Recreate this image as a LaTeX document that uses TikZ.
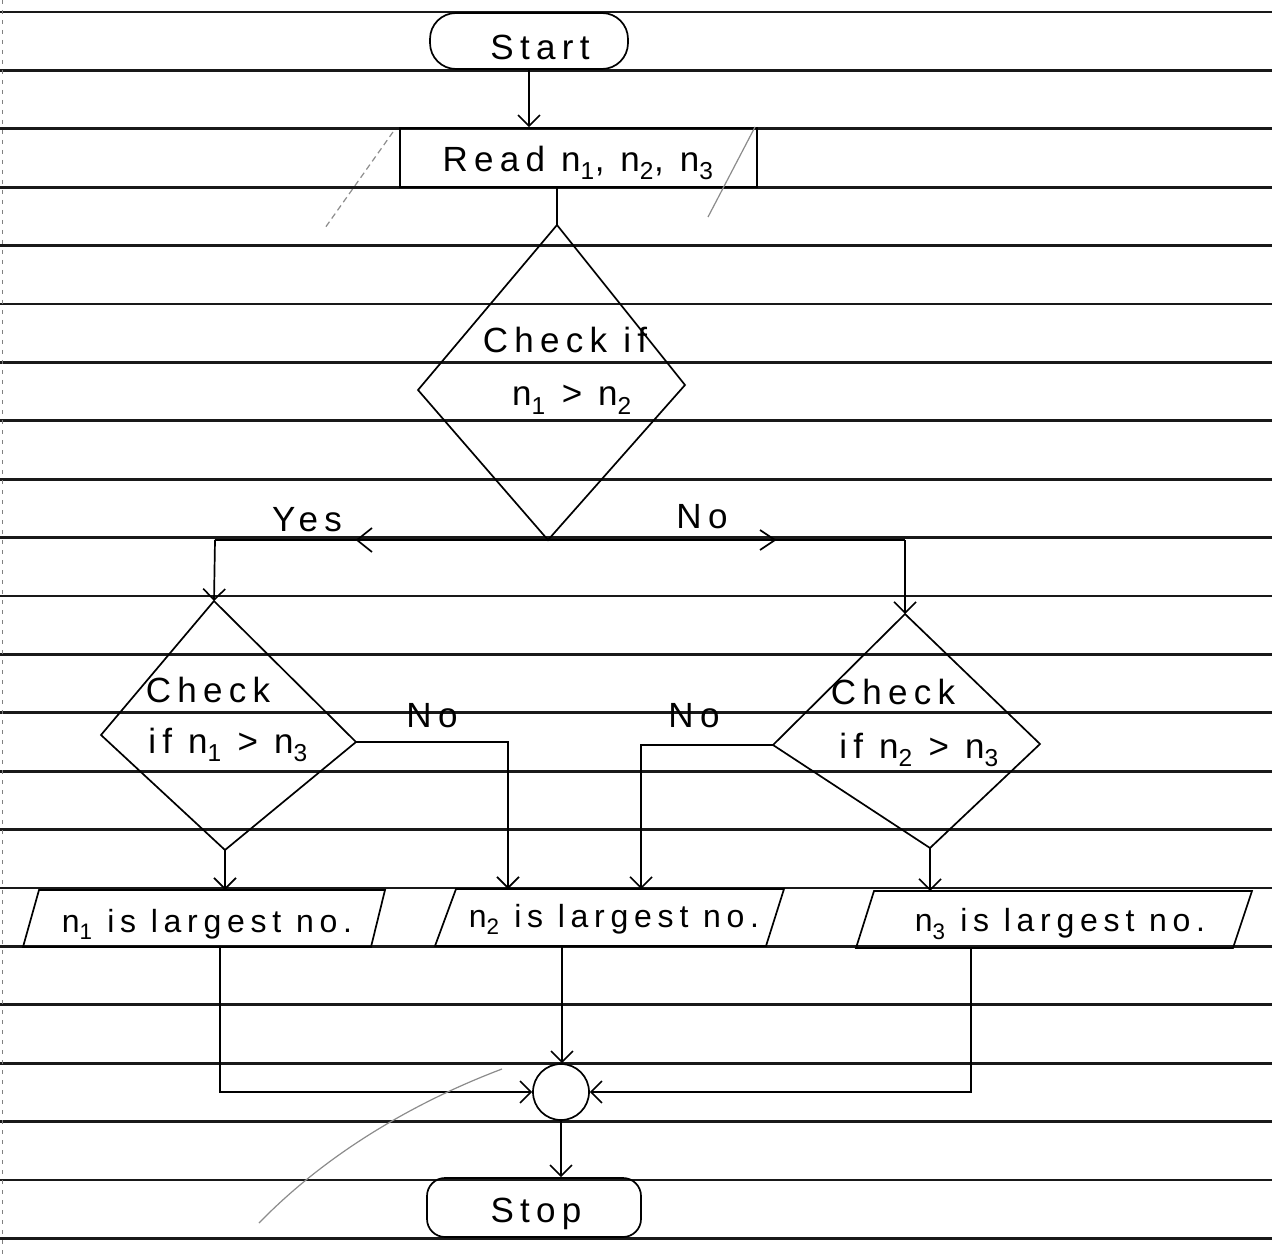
\documentclass[tikz,border=0pt]{standalone}
\usepackage{fontspec}
\setmainfont{Liberation Sans}[LetterSpace=18]
\usetikzlibrary{arrows.meta,calc}
\begin{document}
\begin{tikzpicture}[x=1pt,y=-1pt,
  rule/.style={line width=2.8pt,black!90},
  flow/.style={line width=1.7pt,black},
  arr/.style={flow,-{Straight Barb[length=11pt,width=22pt,line width=1.6pt]}},
  lbl/.style={inner sep=0pt,font=\fontsize{35}{40}\selectfont},
  reslbl/.style={inner sep=0pt,font=\fontsize{32}{38}\selectfont},
  pencil/.style={line width=1.2pt,black!45},
  term/.style={flow,draw,inner sep=0pt},
]
\useasboundingbox (0,0) rectangle (1272,1257);
\fill[white] (0,0) rectangle (1272,1257);

% ruled paper and its margin
\foreach \k in {0,...,21} \draw[rule] (0,{12+58.4*\k}) -- (1272,{12+58.4*\k});
\draw[black!50,line width=1pt,dash pattern=on 4pt off 6pt] (2,0) -- (2,1257);

% terminals and input box
\node[term,rounded corners=26pt,minimum width=198pt,minimum height=56pt] (start) at (529,41) {};
\node[lbl] (starttxt) at (540,47) {Start};
\node[term,minimum width=357pt,minimum height=59pt] (read) at (578.5,157.5) {};
\node[lbl] (readtxt) at (578,163) {Read n\textsubscript{1}, n\textsubscript{2}, n\textsubscript{3}};

% decision n1 > n2
\coordinate (d1t) at (557,225);
\coordinate (d1l) at (418,390);
\coordinate (d1r) at (685,385);
\coordinate (d1b) at (548,540);
\draw[flow] (d1t) -- (d1r) -- (d1b) -- (d1l) -- cycle;
\node[lbl] (d1a) at (565,340) {Check if};
\node[lbl] (d1c) at (572,400) {n\textsubscript{1} > n\textsubscript{2}};

% decision n1 > n3
\coordinate (d2t) at (214,601);
\coordinate (d2l) at (101,735);
\coordinate (d2r) at (356,742);
\coordinate (d2b) at (225,850);
\draw[flow] (d2t) -- (d2r) -- (d2b) -- (d2l) -- cycle;
\node[lbl] (d2a) at (208,690) {Check};
\node[lbl] (d2c) at (228,745) {if n\textsubscript{1} > n\textsubscript{3}};

% decision n2 > n3
\coordinate (d3t) at (905,614);
\coordinate (d3l) at (773,745);
\coordinate (d3r) at (1040,744);
\coordinate (d3b) at (930,848);
\draw[flow] (d3t) -- (d3r) -- (d3b) -- (d3l) -- cycle;
\node[lbl] (d3a) at (893,692) {Check};
\node[lbl] (d3c) at (919,750) {if n\textsubscript{2} > n\textsubscript{3}};

% result boxes
\coordinate (p1a) at (39,890);  \coordinate (p1b) at (385,890);
\coordinate (p1c) at (371,947); \coordinate (p1d) at (23,947);
\draw[flow] (p1a) -- (p1b) -- (p1c) -- (p1d) -- cycle;
\node[reslbl] (p1) at (207,924) {n\textsubscript{1} is largest no.};
\coordinate (p2a) at (456,889); \coordinate (p2b) at (784,889);
\coordinate (p2c) at (766,946); \coordinate (p2d) at (435,946);
\draw[flow] (p2a) -- (p2b) -- (p2c) -- (p2d) -- cycle;
\node[reslbl] (p2) at (614,919) {n\textsubscript{2} is largest no.};
\coordinate (p3a) at (874,891); \coordinate (p3b) at (1252,891);
\coordinate (p3c) at (1233,948); \coordinate (p3d) at (856,948);
\draw[flow] (p3a) -- (p3b) -- (p3c) -- (p3d) -- cycle;
\node[reslbl] (p3) at (1060,924) {n\textsubscript{3} is largest no.};

% connector and end
\node[term,circle,minimum size=56pt] (join) at (561,1092) {};
\node[term,rounded corners=18pt,minimum width=214pt,minimum height=59pt] (stop) at (534,1207.5) {};
\node[lbl] (stoptxt) at (536,1214) {Stop};

% flow lines
\draw[arr] (start) -- (start |- read.north);
\draw[flow] (read.south -| d1t) -- (d1t);
\coordinate (ya) at (215,540);
\coordinate (na) at (905,540);
\draw[flow] (d1b) -- (ya);
\draw[flow] (d1b) -- (na);
\coordinate (chevL) at (357,540);
\coordinate (chevR) at (775,540);
\draw[flow] ($(chevL)+(15,-12)$) -- (chevL) -- ($(chevL)+(15,12)$);
\draw[flow] ($(chevR)+(-15,-10)$) -- (chevR) -- ($(chevR)+(-15,10)$);
\node[lbl] (yes) at (307,520) {Yes};
\node[lbl] (no1) at (702,517) {No};
\draw[arr] (ya) -- (d2t);
\draw[arr] (na) -- (d3t);

\coordinate (p1in) at (225,890);
\coordinate (p2inA) at (508,889);
\coordinate (p2inB) at (641,889);
\coordinate (p3in) at (930,891);
\draw[arr] (d2b) -- (p1in);
\draw[arr] (d2r) -| (p2inA);
\draw[arr] (d3l) -| (p2inB);
\draw[arr] (d3b) -- (p3in);
\node[lbl] (no2) at (432,716) {No};
\node[lbl] (no3) at (694,716) {No};

\coordinate (p1out) at (220,947);
\coordinate (p2out) at (562,946);
\coordinate (p3out) at (971,948);
\draw[arr] (p1out) |- (join);
\draw[arr] (p2out) -- (p2out |- join.north);
\draw[arr] (p3out) |- (join);
\draw[arr] (join) -- (join |- stop.north);

% stray pencil strokes
\draw[pencil,dash pattern=on 6pt off 4pt] (393,132) -- (325,228);
\draw[pencil] (755,127) -- (708,217);
\draw[pencil] (502,1069) .. controls (420,1100) and (330,1150) .. (259,1223);
\end{tikzpicture}
\end{document}
